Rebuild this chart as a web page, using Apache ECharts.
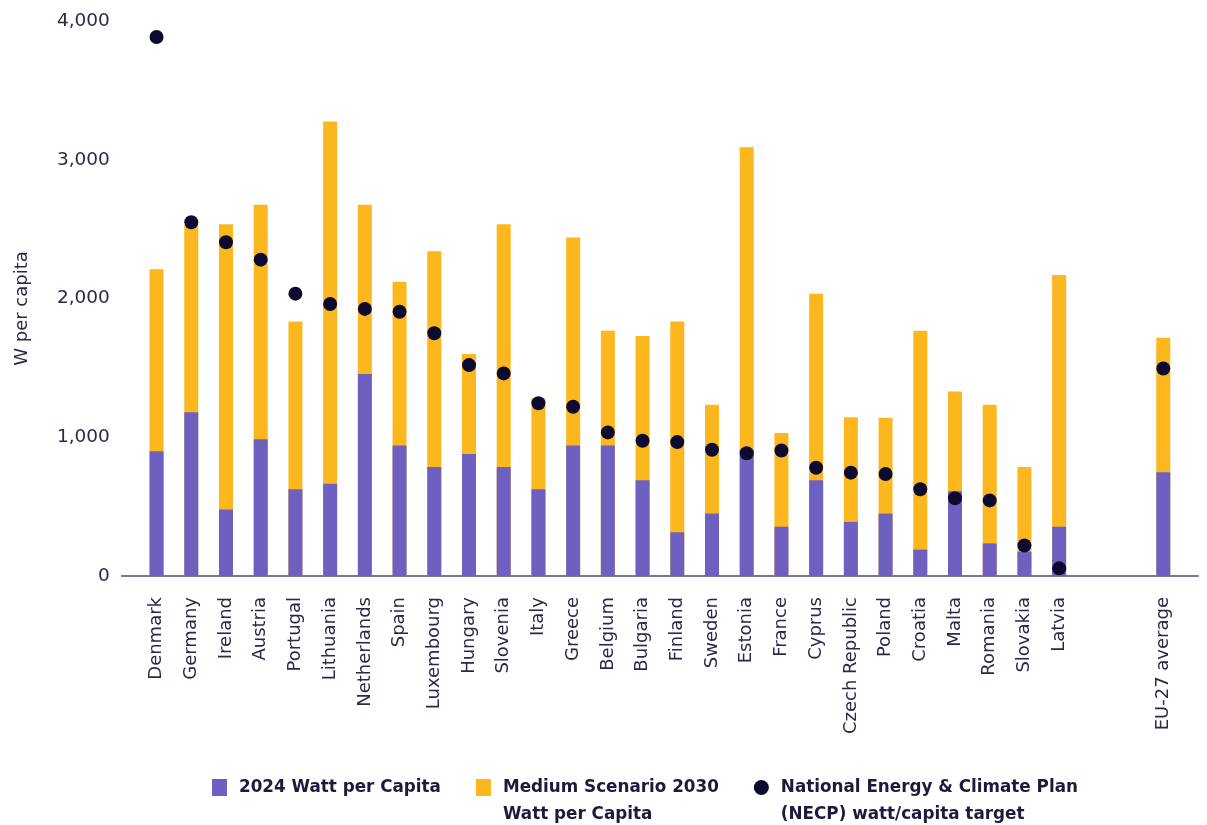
<!DOCTYPE html>
<html>
<head>
<meta charset="utf-8">
<script src="https://cdn.jsdelivr.net/npm/echarts@6/dist/echarts.min.js"></script>
<style>
  html, body { margin: 0; padding: 0; background: #ffffff; }
  #chart { width: 1207px; height: 825px; }
</style>
</head>
<body>
<div id="chart"></div>
<script>
// ---- Data ----
const countries = ["Denmark", "Germany", "Ireland", "Austria", "Portugal", "Lithuania", "Netherlands", "Spain",
  "Luxembourg", "Hungary", "Slovenia", "Italy", "Greece", "Belgium", "Bulgaria", "Finland", "Sweden", "Estonia",
  "France", "Cyprus", "Czech Republic", "Poland", "Croatia", "Malta", "Romania", "Slovakia", "Latvia"];
const watt2024 = [900, 1180, 480, 985, 625, 665, 1455, 940, 785, 880, 785, 625, 940, 940, 690, 315, 450, 910,
  355, 690, 390, 450, 190, 610, 235, 175, 355];
const scenario2030 = [2210, 2530, 2535, 2675, 1835, 3275, 2675, 2120, 2340, 1600, 2535, 1280, 2440, 1767, 1730,
  1835, 1235, 3090, 1030, 2035, 1145, 1140, 1767, 1330, 1235, 785, 2170];
const necpTarget = [3885, 2550, 2405, 2280, 2035, 1960, 1925, 1905, 1750, 1520, 1460, 1245, 1220, 1035, 975,
  965, 910, 885, 905, 780, 745, 735, 625, 560, 545, 220, 55];

const euLabel = "EU-27 average";
const eu2024 = 748;
const eu2030 = 1717;
const euNecp = 1495;

const yTicks = [0, 1000, 2000, 3000, 4000];

const seriesNames = {
  w2024: "2024 Watt per Capita",
  s2030: "Medium Scenario 2030\nWatt per Capita",
  necp: "National Energy & Climate Plan\n(NECP) watt/capita target"
};

// ---- Build axis categories with spacer slots ----
const categories = [" "].concat(countries, ["  ", "   ", euLabel, "    "]);
function pad(arr, euVal) {
  return [null].concat(arr, [null, null, euVal, null]);
}

const purple = "#6e60c0";
const yellow = "#fdb71e";
const navy = "#0c0a2e";
const textColor = "#2b2948";

const chart = echarts.init(document.getElementById("chart"), null, { renderer: "canvas" });
chart.setOption({
  animation: false,
  backgroundColor: "#ffffff",
  textStyle: { fontFamily: "DejaVu Sans" },
  grid: { left: 121.85, right: -4.5, top: 21, bottom: 249, containLabel: false },
  legend: {
    top: 747,
    left: 212,
    padding: 0,
    itemGap: 35,
    itemWidth: 15,
    itemHeight: 17,
    selectedMode: false,
    textStyle: {
      fontFamily: "DejaVu Sans",
      fontWeight: "bold",
      fontSize: 16.8,
      color: "#1c1a3d",
      lineHeight: 27,
      padding: [0, 0, 0, 7]
    },
    formatter: function (name) {
      return name.indexOf("\n") >= 0 ? "\n" + name : name;
    },
    data: [
      { name: seriesNames.w2024, icon: "rect" },
      { name: seriesNames.s2030, icon: "rect" },
      { name: seriesNames.necp, icon: "circle" }
    ]
  },
  xAxis: {
    type: "category",
    data: categories,
    boundaryGap: false,
    axisLine: { show: true, lineStyle: { color: "#7a7690", width: 2 } },
    axisTick: { show: false },
    splitLine: { show: false },
    axisLabel: {
      interval: 0,
      rotate: 90,
      margin: 21,
      fontSize: 18,
      color: textColor,
      fontFamily: "DejaVu Sans"
    }
  },
  yAxis: {
    type: "value",
    min: yTicks[0],
    max: yTicks[yTicks.length - 1],
    interval: 1000,
    name: "W per capita",
    nameLocation: "middle",
    nameGap: 91,
    nameRotate: 90,
    nameTextStyle: { fontSize: 18, color: textColor, fontFamily: "DejaVu Sans", padding: [0, 20, 0, 0] },
    axisLine: { show: false },
    axisTick: { show: false },
    splitLine: { show: false },
    axisLabel: {
      margin: 12,
      fontSize: 18.5,
      color: textColor,
      fontFamily: "DejaVu Sans",
      formatter: function (v) { return v.toLocaleString("en-US"); }
    }
  },
  series: [
    {
      name: seriesNames.s2030,
      type: "bar",
      data: pad(scenario2030, eu2030),
      barWidth: 14,
      barGap: "-100%",
      itemStyle: { color: yellow },
      z: 2
    },
    {
      name: seriesNames.w2024,
      type: "bar",
      data: pad(watt2024, eu2024),
      barWidth: 14,
      barGap: "-100%",
      itemStyle: { color: purple },
      z: 3
    },
    {
      name: seriesNames.necp,
      type: "scatter",
      data: pad(necpTarget, euNecp),
      symbol: "circle",
      symbolSize: 14,
      itemStyle: { color: navy, opacity: 1 },
      z: 5
    }
  ]
});
</script>
</body>
</html>
